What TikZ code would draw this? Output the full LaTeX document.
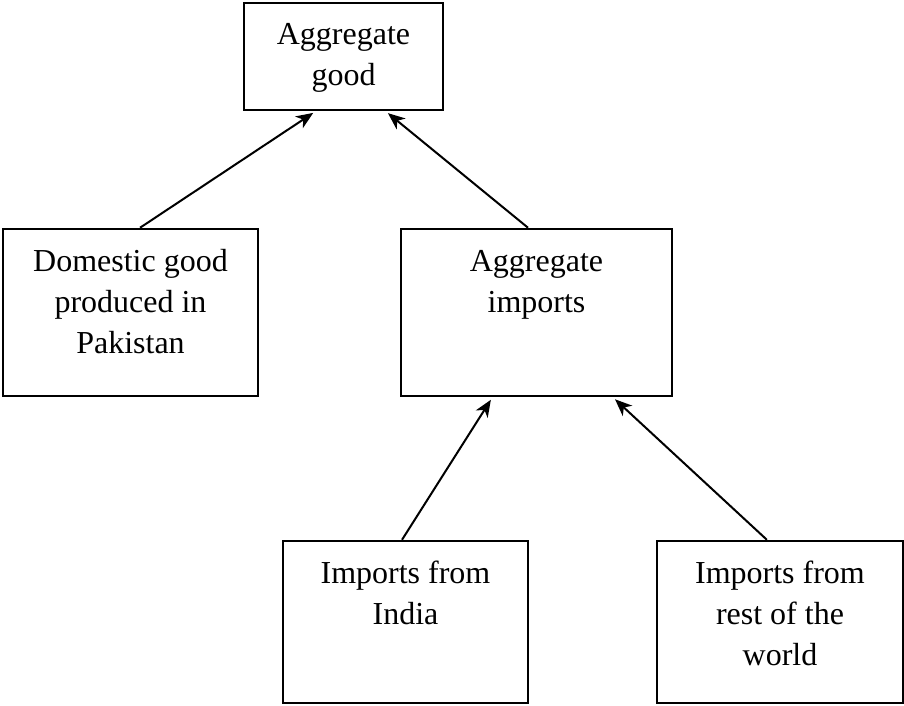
\documentclass[tikz,border=0pt]{standalone}
\usepackage{fontspec}
\setmainfont{Liberation Serif}
\usetikzlibrary{arrows.meta,calc}
\newcommand{\boxtext}[3]{\parbox[c][#1][t]{#2}{\centering\rule{0pt}{42pt}#3}}
\begin{document}
\begin{tikzpicture}[x=1pt,y=-1pt,
  blk/.style={draw=black, line width=2.5pt, inner sep=0pt, rectangle, font=\fontsize{32}{41}\selectfont},
  conn/.style={line width=2pt, -{Stealth[length=17pt,width=14pt,inset=5pt]}, shorten >=3pt}]
\useasboundingbox (0,0) rectangle (904,706);
\node[blk] (A) at (343.5,56.5) {\boxtext{107pt}{199pt}{Aggregate\\good}};
\node[blk] (D) at (130.5,312.5) {\boxtext{167pt}{255pt}{Domestic good\\produced in\\Pakistan}};
\node[blk] (M) at (536.5,312.5) {\boxtext{167pt}{271pt}{Aggregate\\imports}};
\node[blk] (I) at (405.5,622) {\boxtext{162pt}{245pt}{Imports from\\India}};
\node[blk] (R) at (780,622) {\boxtext{162pt}{246pt}{Imports from\\rest of the\\world}};
\draw[conn] ($(D.north west)!0.537!(D.north east)$) -- ($(A.south west)!0.362!(A.south east)$);
\draw[conn] ($(M.north west)!0.469!(M.north east)$) -- ($(A.south west)!0.709!(A.south east)$);
\draw[conn] ($(I.north west)!0.486!(I.north east)$) -- ($(M.south west)!0.339!(M.south east)$);
\draw[conn] ($(R.north west)!0.447!(R.north east)$) -- ($(M.south west)!0.779!(M.south east)$);
\end{tikzpicture}
\end{document}
